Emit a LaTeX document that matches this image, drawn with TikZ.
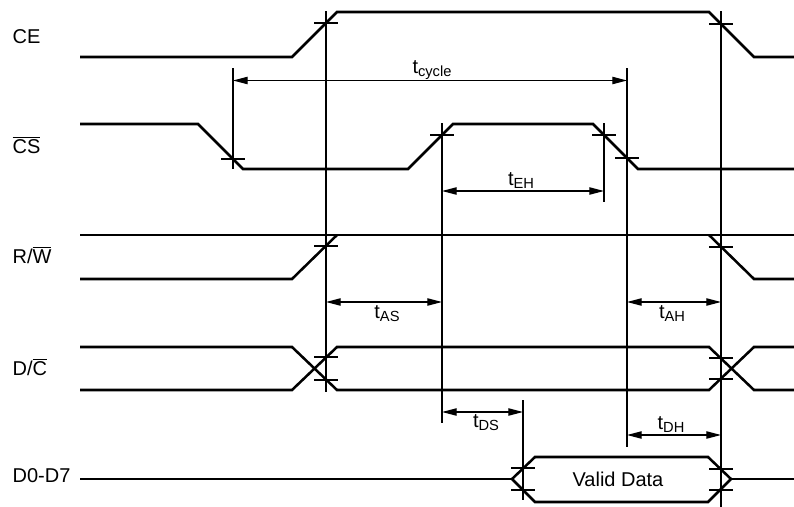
\documentclass[tikz,border=0pt]{standalone}
\usepackage{fontspec}
\setmainfont{Liberation Sans}
\usetikzlibrary{arrows.meta}

\newcommand{\ovl}[1]{$\overline{\mbox{#1}}$}
\newcommand{\tsub}[1]{t\raisebox{-2.5pt}{\fontsize{11}{11}\selectfont #1}}

\tikzset{every picture/.style={line width=0.9pt}}
\tikzset{
  sig/.style={line width=1.9pt},
  guide/.style={line width=0.9pt},
  dim/.style={line width=0.9pt,{Triangle[length=11pt,width=5.5pt]}-{Triangle[length=11pt,width=5.5pt]}},
  lbl/.style={anchor=base west,inner sep=0pt,font=\fontsize{15}{18}\selectfont},
  tlbl/.style={anchor=base,inner sep=0pt,font=\fontsize{15}{18}\selectfont}
}

\begin{document}
\begin{tikzpicture}[x=0.75pt,y=0.75pt,yscale=-1,xscale=1]
	\useasboundingbox (0,0) rectangle (794,507);

	%Signal: CE
	\draw [sig] (80,57) -- (292,57) -- (337,12) -- (709,12) -- (754,57) -- (794,57) ;
	%Signal: CS
	\draw [sig] (80,124) -- (198,124) -- (243,169) -- (408,169) -- (453,124) -- (593,124) -- (638,169) -- (794,169) ;
	%Signal: R/W
	\draw [sig] (80,235) -- (794,235) ;
	\draw [sig] (80,279) -- (292,279) -- (337,235) ;
	\draw [sig] (709,235) -- (754,279) -- (794,279) ;
	%Signal: D/C
	\draw [sig] (80,347) -- (292,347) -- (337,390) -- (709,390) -- (754,347) -- (794,347) ;
	\draw [sig] (80,390) -- (292,390) -- (337,347) -- (709,347) -- (754,390) -- (794,390) ;
	%Signal: D0-D7
	\draw [sig] (80,479) -- (512,479) ;
	\draw [sig] (512,479) -- (535,457) -- (708,457) -- (731,479) -- (708,502) -- (535,502) -- cycle ;
	\draw [sig] (731,479) -- (794,479) ;

	%Straight Lines (guides)
	\draw [guide] (233,68) -- (233,169) ;
	\draw [guide] (326,11) -- (326,392) ;
	\draw [guide] (442,123) -- (442,423) ;
	\draw [guide] (604,123) -- (604,202) ;
	\draw [guide] (627,68) -- (627,447) ;
	\draw [guide] (721,11) -- (721,507) ;
	\draw [guide] (523,400) -- (523,500) ;

	%Ticks
	\foreach \x/\y in {326/23,721/24,233/159,442/135,604/135,627/158,326/246,721/247,326/357,326/380,721/358,721/379,523/468,523/490,721/469,721/490}
		\draw [guide] (\x-12,\y) -- (\x+12,\y) ;

	%Timing arrows
	\draw [dim] (233,80.5) -- (627,80.5) ;
	\draw [dim] (442,191) -- (604,191) ;
	\draw [dim] (326,302) -- (442,302) ;
	\draw [dim] (627,302) -- (721,302) ;
	\draw [dim] (442,412) -- (523,412) ;
	\draw [dim] (627,435) -- (721,435) ;

	% Text Node
	\draw (12,43) node [lbl] (ce) {CE};
	% Text Node
	\draw (12,153) node [lbl] (cs) {\ovl{CS}};
	% Text Node
	\draw (12,263) node [lbl] (rw) {R/\ovl{W}};
	% Text Node
	\draw (12,375) node [lbl] (dc) {D/\ovl{C}};
	% Text Node
	\draw (12,482) node [lbl] (data) {D0-D7};
	% Text Node
	\draw (618,486) node [tlbl] (valid) {Valid Data};
	% Text Node
	\draw (432,73) node [tlbl] (tcyc) {\tsub{cycle}};
	% Text Node
	\draw (521,185) node [tlbl] (teh) {\tsub{EH}};
	% Text Node
	\draw (387,318) node [tlbl] (tas) {\tsub{AS}};
	% Text Node
	\draw (672,318) node [tlbl] (tah) {\tsub{AH}};
	% Text Node
	\draw (486,427) node [tlbl] (tds) {\tsub{DS}};
	% Text Node
	\draw (671,429) node [tlbl] (tdh) {\tsub{DH}};

\end{tikzpicture}
\end{document}
